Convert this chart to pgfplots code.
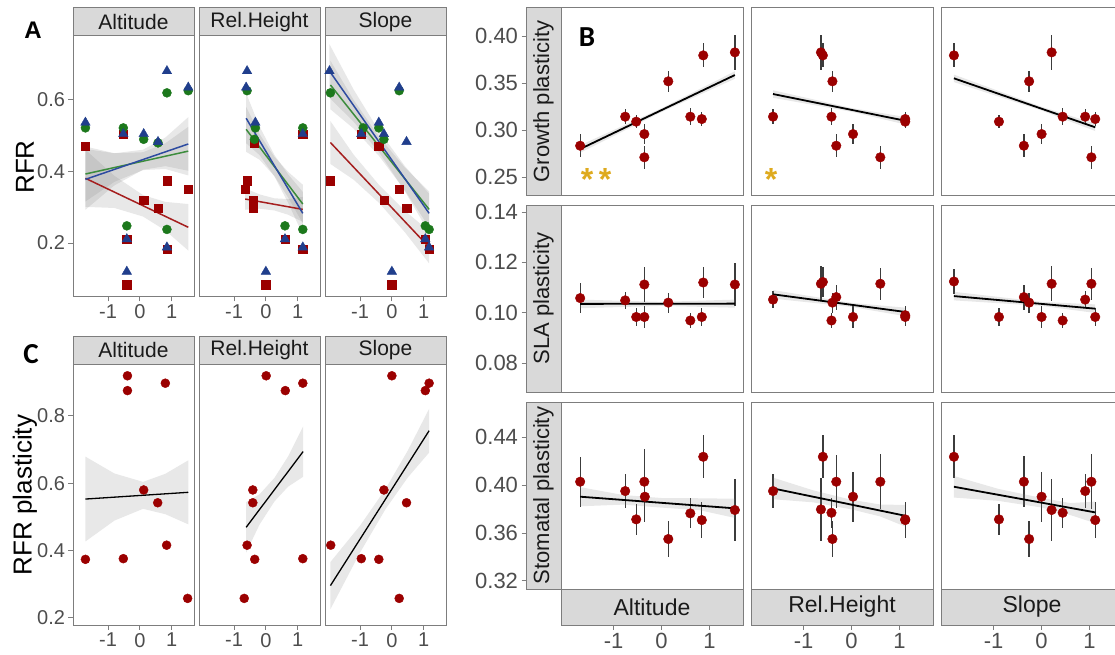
\documentclass[border=0pt]{standalone}
\usepackage{fontspec}
\setmainfont{Liberation Sans}
\newfontfamily\calibri{Carlito}
\usepackage{pgfplots}
\usepackage{pgfplotstable}
\pgfplotsset{compat=1.18}

\definecolor{ptred}{RGB}{155,0,0}
\definecolor{ptgreen}{RGB}{28,120,28}
\definecolor{ptblue}{RGB}{32,62,140}
\definecolor{lnred}{RGB}{165,30,30}
\definecolor{lngreen}{RGB}{60,140,60}
\definecolor{lnblue}{RGB}{45,75,160}
\definecolor{stripfill}{RGB}{217,217,217}
\definecolor{frame}{RGB}{125,125,125}
\definecolor{ticklab}{RGB}{77,77,77}
\definecolor{striptext}{RGB}{26,26,26}
\definecolor{errgray}{RGB}{60,60,60}
\definecolor{gold}{RGB}{222,170,30}

\pgfplotsset{
  base/.style={
    scale only axis, anchor=north west,
    xmin=-2.1, xmax=1.7,
    axis line style={draw=frame, line width=1pt},
    major tick style={draw=frame, line width=1pt},
    tick align=outside, major tick length=4.5pt,
    tick label style={font=\fontsize{20}{22}\selectfont, text=ticklab},
    /pgf/number format/assume math mode=true,
    xtick={-1,0,1}, xticklabels={-1,0,1},
    ytick=\empty, xtick pos=left, ytick pos=left,
  },
  bt/.style={tick label style={font=\fontsize{22}{24}\selectfont, text=ticklab}},
  sq/.style={only marks, mark=square*, mark size=4.2pt, color=ptred},
  ci/.style={only marks, mark=*, mark size=4.5pt, color=ptgreen},
  tri/.style={only marks, mark=triangle*, mark size=5.5pt, color=ptblue},
  bandst/.style={draw=none, fill=gray, fill opacity=0.18},
  pts/.style={only marks, mark=*, mark size=4.8pt, color=ptred},
  errb/.style={only marks, mark=none, error bars/.cd, y dir=both, y explicit, error mark=none,
     error bar style={draw=errgray, line width=1.3pt}},
  fitl/.style={black, line width=1.8pt, mark=none},
}

% ---------- Panel B data ----------
\pgfplotstableread{
x y e
-1.70 0.2833 0.0124
-0.76 0.3142 0.0083
-0.53 0.3089 0.0070
-0.36 0.2957 0.0106
-0.36 0.2710 0.0124
0.14 0.3518 0.0110
0.60 0.3142 0.0090
0.84 0.3117 0.0078
0.87 0.3794 0.0128
1.53 0.3826 0.0186
}\grA
\pgfplotstableread{
x y e
-1.64 0.3142 0.0083
-0.64 0.3826 0.0186
-0.60 0.3794 0.0128
-0.40 0.3518 0.0110
-0.42 0.3142 0.0090
-0.32 0.2833 0.0124
0.03 0.2957 0.0106
0.60 0.2710 0.0124
1.12 0.3117 0.0078
1.12 0.3089 0.0070
}\grB
\pgfplotstableread{
x y e
-1.83 0.3794 0.0128
-0.89 0.3089 0.0070
-0.37 0.2833 0.0124
-0.26 0.3518 0.0110
0.00 0.2957 0.0106
0.21 0.3826 0.0186
0.44 0.3142 0.0090
0.91 0.3142 0.0083
1.12 0.3117 0.0078
1.04 0.2710 0.0124
}\grC
\pgfplotstableread{
x y e
-1.70 0.1058 0.0061
-0.76 0.1049 0.0033
-0.53 0.0983 0.0036
-0.36 0.0983 0.0043
-0.36 0.1112 0.0070
0.14 0.1040 0.0040
0.60 0.0969 0.0030
0.84 0.0983 0.0036
0.87 0.1120 0.0063
1.53 0.1112 0.0086
}\slA
\pgfplotstableread{
x y e
-1.64 0.1052 0.0033
-0.64 0.1115 0.0070
-0.60 0.1122 0.0061
-0.32 0.1062 0.0050
-0.40 0.1040 0.0040
-0.42 0.0969 0.0030
0.03 0.0983 0.0043
0.60 0.1115 0.0063
1.12 0.0983 0.0036
1.12 0.0990 0.0036
}\slB
\pgfplotstableread{
x y e
-1.83 0.1124 0.0050
-0.89 0.0983 0.0036
-0.37 0.1062 0.0050
-0.26 0.1040 0.0040
0.00 0.0983 0.0043
0.21 0.1115 0.0070
0.44 0.0969 0.0030
0.91 0.1052 0.0033
1.04 0.1115 0.0063
1.12 0.0983 0.0036
}\slC
\pgfplotstableread{
x y e
-1.70 0.4028 0.0210
-0.76 0.3950 0.0140
-0.53 0.3714 0.0130
-0.36 0.4028 0.0270
-0.35 0.3903 0.0210
0.14 0.3550 0.0150
0.60 0.3764 0.0125
0.84 0.3708 0.0150
0.87 0.4236 0.0180
1.53 0.3792 0.0260
}\stA
\pgfplotstableread{
x y e
-1.64 0.3950 0.0140
-0.60 0.4236 0.0180
-0.64 0.3797 0.0260
-0.32 0.4028 0.0220
-0.42 0.3769 0.0125
-0.40 0.3550 0.0150
0.03 0.3903 0.0210
0.60 0.4028 0.0230
1.12 0.3708 0.0150
1.12 0.3714 0.0130
}\stB
\pgfplotstableread{
x y e
-1.83 0.4236 0.0180
-0.89 0.3714 0.0130
-0.37 0.4028 0.0215
-0.26 0.3550 0.0150
0.00 0.3903 0.0210
0.21 0.3792 0.0260
0.44 0.3769 0.0125
0.91 0.3950 0.0140
1.04 0.4028 0.0230
1.12 0.3708 0.0150
}\stC

\begin{document}
\begin{tikzpicture}
\useasboundingbox (0pt,0pt) rectangle (1115pt,-655pt);

% ================= Panel A =================
\begin{axis}[base, at={(73pt,-36pt)}, width=121pt, height=261pt, ymin=0.049, ymax=0.779,
  ytick={0.2,0.4,0.6}, yticklabels={0.2,0.4,0.6}]
\addplot[sq] coordinates {(-1.71,0.471)(-0.52,0.505)(-0.41,0.211)(-0.41,0.083)(0.12,0.320)(0.57,0.298)(0.85,0.374)(0.85,0.182)(1.52,0.350)};
\addplot[ci] coordinates {(-1.71,0.522)(-0.52,0.522)(-0.41,0.248)(0.12,0.490)(0.57,0.480)(0.85,0.620)(0.85,0.238)(1.52,0.626)};
\addplot[tri] coordinates {(-1.71,0.537)(-0.52,0.505)(-0.41,0.211)(-0.41,0.120)(0.12,0.505)(0.57,0.483)(0.85,0.681)(0.85,0.188)(1.52,0.635)};
\addplot[bandst] coordinates {(-1.71,0.461)(-0.8,0.388)(0.1,0.334)(0.8,0.315)(1.52,0.309)(1.52,0.179)(0.8,0.235)(0.1,0.274)(-0.8,0.298)(-1.71,0.301)} -- cycle;
\addplot[bandst] coordinates {(-1.71,0.470)(-0.8,0.451)(0.1,0.454)(0.8,0.479)(1.52,0.525)(1.52,0.389)(0.8,0.407)(0.1,0.404)(-0.8,0.371)(-1.71,0.316)} -- cycle;
\addplot[bandst] coordinates {(-1.71,0.463)(-0.8,0.451)(0.1,0.461)(0.8,0.495)(1.52,0.552)(1.52,0.402)(0.8,0.415)(0.1,0.405)(-0.8,0.361)(-1.71,0.293)} -- cycle;
\addplot[lnred, line width=1.5pt] coordinates {(-1.71,0.381)(1.52,0.244)};
\addplot[lngreen, line width=1.5pt] coordinates {(-1.71,0.393)(1.52,0.457)};
\addplot[lnblue, line width=1.5pt] coordinates {(-1.71,0.378)(1.52,0.477)};
\end{axis}

\begin{axis}[base, at={(199pt,-36pt)}, width=121pt, height=261pt, ymin=0.049, ymax=0.779]
\addplot[sq] coordinates {(-0.36,0.479)(-0.58,0.374)(-0.65,0.350)(-0.40,0.320)(-0.40,0.298)(0.0,0.083)(0.60,0.211)(1.16,0.505)(1.16,0.182)};
\addplot[ci] coordinates {(-0.59,0.626)(-0.33,0.522)(-0.36,0.490)(0.60,0.248)(1.16,0.522)(1.16,0.238)};
\addplot[tri] coordinates {(-0.59,0.681)(-0.62,0.635)(-0.33,0.537)(0.0,0.120)(0.60,0.211)(1.16,0.505)(1.16,0.188)};
\addplot[bandst] coordinates {(-0.65,0.353)(-0.2,0.336)(0.27,0.325)(0.7,0.323)(1.16,0.329)(1.16,0.259)(0.7,0.279)(0.27,0.291)(-0.2,0.296)(-0.65,0.293)} -- cycle;
\addplot[bandst] coordinates {(-0.62,0.581)(-0.2,0.505)(0.27,0.441)(0.7,0.399)(1.16,0.363)(1.16,0.255)(0.7,0.327)(0.27,0.387)(-0.2,0.433)(-0.62,0.455)} -- cycle;
\addplot[bandst] coordinates {(-0.62,0.619)(-0.2,0.526)(0.27,0.446)(0.7,0.392)(1.16,0.343)(1.16,0.223)(0.7,0.312)(0.27,0.386)(-0.2,0.446)(-0.62,0.479)} -- cycle;
\addplot[lnred, line width=1.5pt] coordinates {(-0.65,0.323)(1.16,0.294)};
\addplot[lngreen, line width=1.5pt] coordinates {(-0.62,0.518)(1.16,0.309)};
\addplot[lnblue, line width=1.5pt] coordinates {(-0.62,0.549)(1.16,0.283)};
\end{axis}

\begin{axis}[base, at={(325pt,-36pt)}, width=121pt, height=261pt, ymin=0.049, ymax=0.779]
\addplot[sq] coordinates {(-1.93,0.374)(-0.96,0.505)(-0.41,0.471)(-0.25,0.320)(0.0,0.083)(0.23,0.350)(0.46,0.298)(1.05,0.211)(1.17,0.182)};
\addplot[ci] coordinates {(-1.93,0.620)(-0.90,0.522)(-0.41,0.522)(-0.25,0.490)(0.23,0.626)(1.05,0.248)(1.17,0.238)};
\addplot[tri] coordinates {(-1.96,0.681)(-0.96,0.505)(-0.41,0.537)(-0.25,0.505)(0.0,0.120)(0.23,0.635)(0.46,0.483)(1.05,0.211)(1.17,0.188)};
\addplot[bandst] coordinates {(-1.93,0.541)(-1.2,0.447)(-0.4,0.362)(0.4,0.291)(1.17,0.233)(1.17,0.143)(0.4,0.231)(-0.4,0.312)(-1.2,0.377)(-1.93,0.421)} -- cycle;
\addplot[bandst] coordinates {(-1.93,0.710)(-1.2,0.600)(-0.4,0.497)(0.4,0.412)(1.17,0.344)(1.17,0.244)(0.4,0.348)(-0.4,0.443)(-1.2,0.520)(-1.93,0.574)} -- cycle;
\addplot[bandst] coordinates {(-1.96,0.756)(-1.2,0.629)(-0.4,0.513)(0.4,0.416)(1.17,0.338)(1.17,0.228)(0.4,0.346)(-0.4,0.453)(-1.2,0.539)(-1.96,0.606)} -- cycle;
\addplot[lnred, line width=1.5pt] coordinates {(-1.93,0.481)(1.17,0.188)};
\addplot[lngreen, line width=1.5pt] coordinates {(-1.93,0.642)(1.17,0.294)};
\addplot[lnblue, line width=1.5pt] coordinates {(-1.96,0.681)(1.17,0.283)};
\end{axis}

% ================= Panel C =================
\begin{axis}[base, at={(73pt,-364pt)}, width=121pt, height=261pt, ymin=0.179, ymax=0.954,
  ytick={0.2,0.4,0.6,0.8}, yticklabels={0.2,0.4,0.6,0.8}]
\addplot[pts, mark size=4.5pt] coordinates {(-1.71,0.374)(-0.52,0.376)(-0.39,0.919)(-0.39,0.875)(0.12,0.580)(0.56,0.542)(0.80,0.897)(0.84,0.416)(1.50,0.258)};
\addplot[bandst] coordinates {(-1.71,0.679)(-0.8,0.629)(0.1,0.604)(0.8,0.628)(1.52,0.668)(1.52,0.478)(0.8,0.508)(0.1,0.524)(-0.8,0.489)(-1.71,0.427)} -- cycle;
\addplot[black, line width=1.3pt] coordinates {(-1.71,0.553)(1.52,0.573)};
\end{axis}

\begin{axis}[base, at={(199pt,-364pt)}, width=121pt, height=261pt, ymin=0.179, ymax=0.954]
\addplot[pts, mark size=4.5pt] coordinates {(0.01,0.919)(0.61,0.875)(1.16,0.897)(1.16,0.376)(-0.41,0.580)(-0.41,0.542)(-0.59,0.416)(-0.35,0.374)(-0.68,0.258)};
\addplot[bandst] coordinates {(-0.62,0.544)(-0.2,0.567)(0.27,0.616)(0.7,0.680)(1.17,0.769)(1.17,0.619)(0.7,0.590)(0.27,0.546)(-0.2,0.477)(-0.62,0.394)} -- cycle;
\addplot[black, line width=1.3pt] coordinates {(-0.62,0.469)(1.17,0.694)};
\end{axis}

\begin{axis}[base, at={(325pt,-364pt)}, width=121pt, height=261pt, ymin=0.179, ymax=0.954]
\addplot[pts, mark size=4.5pt] coordinates {(0.0,0.919)(1.05,0.875)(1.17,0.897)(-0.25,0.580)(0.46,0.542)(-1.92,0.416)(-0.96,0.376)(-0.41,0.374)(0.23,0.258)};
\addplot[bandst] coordinates {(-1.93,0.366)(-1.0,0.474)(-0.2,0.583)(0.5,0.697)(1.17,0.821)(1.17,0.691)(0.5,0.617)(-0.2,0.523)(-1.0,0.394)(-1.93,0.226)} -- cycle;
\addplot[black, line width=1.3pt] coordinates {(-1.93,0.296)(1.17,0.756)};
\end{axis}

% ================= Panel B =================
% row strips with y axes
\begin{axis}[base, bt, at={(526pt,-8pt)}, width=35pt, height=187pt, ymin=0.2309, ymax=0.4298,
  xtick=\empty, ytick={0.25,0.30,0.35,0.40}, yticklabels={0.25,0.30,0.35,0.40},
  axis background/.style={fill=stripfill}]
\addplot[draw=none] coordinates {(0,0.3)};
\end{axis}
\begin{axis}[base, bt, at={(526pt,-205pt)}, width=35pt, height=187pt, ymin=0.06848, ymax=0.1428,
  xtick=\empty, ytick={0.08,0.10,0.12,0.14}, yticklabels={0.08,0.10,0.12,0.14},
  axis background/.style={fill=stripfill}]
\addplot[draw=none] coordinates {(0,0.1)};
\end{axis}
\begin{axis}[base, bt, at={(526pt,-402pt)}, width=35pt, height=187pt, ymin=0.3133, ymax=0.4693,
  xtick=\empty, ytick={0.32,0.36,0.40,0.44}, yticklabels={0.32,0.36,0.40,0.44},
  axis background/.style={fill=stripfill}]
\addplot[draw=none] coordinates {(0,0.4)};
\end{axis}

% bottom strips with x axes
\begin{axis}[base, bt, at={(561pt,-589pt)}, width=182pt, height=36pt, ymin=0, ymax=1,
  axis background/.style={fill=stripfill}]
\addplot[draw=none] coordinates {(0,0.5)};
\end{axis}
\begin{axis}[base, bt, at={(751pt,-589pt)}, width=182pt, height=36pt, ymin=0, ymax=1,
  axis background/.style={fill=stripfill}]
\addplot[draw=none] coordinates {(0,0.5)};
\end{axis}
\begin{axis}[base, bt, at={(941pt,-589pt)}, width=182pt, height=36pt, ymin=0, ymax=1,
  axis background/.style={fill=stripfill}]
\addplot[draw=none] coordinates {(0,0.5)};
\end{axis}

% row 1
\begin{axis}[base, at={(561pt,-8pt)}, width=182pt, height=187pt, ymin=0.2309, ymax=0.4298, xtick=\empty]
\addplot[errb] table[x=x,y=y,y error=e]{\grA};
\addplot[pts] table[x=x,y=y]{\grA};
\addplot[bandst] coordinates {(-1.70,0.2838)(0,0.3232)(1.53,0.3625)(1.53,0.3545)(0,0.3192)(-1.70,0.2758)} -- cycle;
\addplot[fitl] coordinates {(-1.70,0.2798)(1.53,0.3585)};
\end{axis}
\begin{axis}[base, at={(751pt,-8pt)}, width=182pt, height=187pt, ymin=0.2309, ymax=0.4298, xtick=\empty]
\addplot[errb] table[x=x,y=y,y error=e]{\grB};
\addplot[pts] table[x=x,y=y]{\grB};
\addplot[bandst] coordinates {(-1.64,0.3423)(0,0.3234)(1.12,0.3139)(1.12,0.3059)(0,0.3194)(-1.64,0.3343)} -- cycle;
\addplot[fitl] coordinates {(-1.64,0.3383)(1.12,0.3099)};
\end{axis}
\begin{axis}[base, at={(941pt,-8pt)}, width=182pt, height=187pt, ymin=0.2309, ymax=0.4298, xtick=\empty]
\addplot[errb] table[x=x,y=y,y error=e]{\grC};
\addplot[pts] table[x=x,y=y]{\grC};
\addplot[bandst] coordinates {(-1.83,0.3590)(0,0.3247)(1.12,0.3069)(1.12,0.2989)(0,0.3207)(-1.83,0.3510)} -- cycle;
\addplot[fitl] coordinates {(-1.83,0.3550)(1.12,0.3029)};
\end{axis}

% row 2
\begin{axis}[base, at={(561pt,-205pt)}, width=182pt, height=187pt, ymin=0.06848, ymax=0.1428, xtick=\empty]
\addplot[errb] table[x=x,y=y,y error=e]{\slA};
\addplot[pts] table[x=x,y=y]{\slA};
\addplot[bandst] coordinates {(-1.70,0.1052)(0,0.1043)(1.53,0.1052)(1.53,0.1020)(0,0.1027)(-1.70,0.1018)} -- cycle;
\addplot[fitl] coordinates {(-1.70,0.1035)(1.53,0.1036)};
\end{axis}
\begin{axis}[base, at={(751pt,-205pt)}, width=182pt, height=187pt, ymin=0.06848, ymax=0.1428, xtick=\empty]
\addplot[errb] table[x=x,y=y,y error=e]{\slB};
\addplot[pts] table[x=x,y=y]{\slB};
\addplot[bandst] coordinates {(-1.64,0.1090)(0,0.1039)(1.12,0.1020)(1.12,0.0986)(0,0.1023)(-1.64,0.1056)} -- cycle;
\addplot[fitl] coordinates {(-1.64,0.1073)(1.12,0.1003)};
\end{axis}
\begin{axis}[base, at={(941pt,-205pt)}, width=182pt, height=187pt, ymin=0.06848, ymax=0.1428, xtick=\empty]
\addplot[errb] table[x=x,y=y,y error=e]{\slC};
\addplot[pts] table[x=x,y=y]{\slC};
\addplot[bandst] coordinates {(-1.83,0.1083)(0,0.1043)(1.12,0.1033)(1.12,0.0999)(0,0.1027)(-1.83,0.1049)} -- cycle;
\addplot[fitl] coordinates {(-1.83,0.1066)(1.12,0.1016)};
\end{axis}

% row 3
\begin{axis}[base, at={(561pt,-402pt)}, width=182pt, height=187pt, ymin=0.3133, ymax=0.4693, xtick=\empty]
\addplot[errb] table[x=x,y=y,y error=e]{\stA};
\addplot[pts] table[x=x,y=y]{\stA};
\addplot[bandst] coordinates {(-1.70,0.3983)(-0.8,0.3917)(0,0.3892)(0.8,0.3890)(1.53,0.3886)(1.53,0.3726)(0.8,0.3790)(0,0.3812)(-0.8,0.3837)(-1.70,0.3823)} -- cycle;
\addplot[fitl] coordinates {(-1.70,0.3903)(1.53,0.3806)};
\end{axis}
\begin{axis}[base, at={(751pt,-402pt)}, width=182pt, height=187pt, ymin=0.3133, ymax=0.4693, xtick=\empty]
\addplot[errb] table[x=x,y=y,y error=e]{\stB};
\addplot[pts] table[x=x,y=y]{\stB};
\addplot[bandst] coordinates {(-1.64,0.4062)(-0.8,0.3956)(0,0.3877)(0.6,0.3838)(1.12,0.3834)(1.12,0.3654)(0.6,0.3738)(0,0.3797)(-0.8,0.3856)(-1.64,0.3882)} -- cycle;
\addplot[fitl] coordinates {(-1.64,0.3972)(1.12,0.3744)};
\end{axis}
\begin{axis}[base, at={(941pt,-402pt)}, width=182pt, height=187pt, ymin=0.3133, ymax=0.4693, xtick=\empty]
\addplot[errb] table[x=x,y=y,y error=e]{\stC};
\addplot[pts] table[x=x,y=y]{\stC};
\addplot[bandst] coordinates {(-1.83,0.4076)(-0.9,0.3968)(0,0.3893)(0.6,0.3850)(1.12,0.3862)(1.12,0.3682)(0.6,0.3750)(0,0.3813)(-0.9,0.3868)(-1.83,0.3896)} -- cycle;
\addplot[fitl] coordinates {(-1.83,0.3986)(1.12,0.3772)};
\end{axis}

% ================= strips and labels =================
\begin{scope}[x=1pt,y=-1pt]
\foreach \xa/\xb/\lab in {73/194/Altitude, 199/320/Rel.Height, 325/446/Slope} {
  \draw[frame, line width=1pt, fill=stripfill] (\xa,8) rectangle (\xb,36);
  \node[font=\fontsize{21}{23}\selectfont, text=striptext] at ({(\xa+\xb)/2},22) {\lab};
  \draw[frame, line width=1pt, fill=stripfill] (\xa,336) rectangle (\xb,364);
  \node[font=\fontsize{21}{23}\selectfont, text=striptext] at ({(\xa+\xb)/2},350) {\lab};
}
\foreach \xa/\xb/\lab in {561/743/Altitude, 751/933/Rel.Height, 941/1123/Slope} {
  \node[font=\fontsize{23}{25}\selectfont, text=striptext] at ({(\xa+\xb)/2},607) {\lab};
}
\node[rotate=90, font=\fontsize{22}{24}\selectfont, text=striptext] at (543.5,101.5) {Growth plasticity};
\node[rotate=90, font=\fontsize{22}{24}\selectfont, text=striptext] at (543.5,298.5) {SLA plasticity};
\node[rotate=90, font=\fontsize{22}{24}\selectfont, text=striptext] at (543.5,495.5) {Stomatal plasticity};

\node[rotate=90, font=\fontsize{26}{28}\selectfont] at (25,167) {RFR};
\node[rotate=90, font=\fontsize{26}{28}\selectfont] at (25,495) {RFR plasticity};

\node[font=\bfseries\fontsize{24}{26}\selectfont] at (33,30) {A};
\node[font=\calibri\bfseries\fontsize{29}{30}\selectfont] at (587,37) {B};
\node[font=\calibri\bfseries\fontsize{29}{30}\selectfont] at (31,354) {C};

\node[anchor=north, inner sep=0pt, font=\bfseries\fontsize{32}{34}\selectfont, text=gold] at (587,168) {*};
\node[anchor=north, inner sep=0pt, font=\bfseries\fontsize{32}{34}\selectfont, text=gold] at (605,168) {*};
\node[anchor=north, inner sep=0pt, font=\bfseries\fontsize{32}{34}\selectfont, text=gold] at (771,168) {*};
\end{scope}
\end{tikzpicture}
\end{document}
